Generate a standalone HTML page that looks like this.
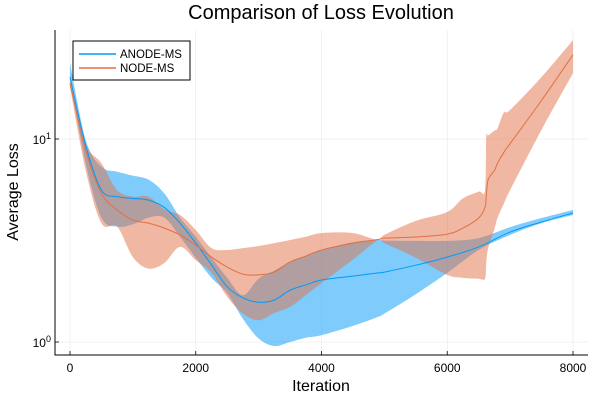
<!DOCTYPE html>
<html><head><meta charset="utf-8"><style>
body{margin:0;background:#fff;}
svg{display:block;font-family:"Liberation Sans","DejaVu Sans",sans-serif;}
</style></head><body>
<svg id="chart" width="600" height="400" viewBox="0 0 600 400">
<text x="321" y="19" text-anchor="middle" font-size="20" fill="#000">Comparison of Loss Evolution</text>
<g id="grid"></g>
<g id="bands"></g>
<g id="lines"></g>
<g id="axes"></g>
<text x="321" y="391" text-anchor="middle" font-size="16">Iteration</text>
<text transform="translate(18,192) rotate(-90)" text-anchor="middle" font-size="16">Average Loss</text>
<g>
<rect x="73" y="41" width="117" height="39" fill="#fff" stroke="#000" stroke-width="1"/>
<line x1="79" y1="54" x2="116" y2="54" stroke="#009af9" stroke-width="1.5"/>
<text x="120" y="58" font-size="11.5">ANODE-MS</text>
<line x1="79" y1="68" x2="116" y2="68" stroke="#e26f46" stroke-width="1.5"/>
<text x="120" y="72" font-size="11.5">NODE-MS</text>
</g>
</svg>
<script>
const xTicks=[0,2000,4000,6000,8000];
const yTicks=[0,1];
const anodeIter=[0,250,500,750,1000,1250,1500,1750,2000,2250,2500,2750,3000,3250,3500,3750,4000,4500,4900,5000,5500,6000,6500,7000,7500,8000];
const anodeMean=[20.2,9.3,5.6,5.2,5.1,5.0,4.6,3.85,3.07,2.4,1.87,1.65,1.57,1.61,1.8,1.91,2.02,2.11,2.19,2.21,2.39,2.62,2.94,3.48,3.9,4.32];
const anodeUpper=[23.6,9.9,7.3,6.9,6.6,6.3,5.4,4.1,3.3,2.6,2.07,1.7,2.05,2.25,2.48,2.66,2.84,3.1,3.18,3.16,3.15,3.15,3.25,3.68,4.08,4.47];
const anodeLower=[19.5,7.6,4.1,3.7,3.8,4.1,4.1,3.3,2.6,2.07,1.74,1.3,1.04,0.955,1.0,1.05,1.08,1.2,1.33,1.38,1.72,2.19,2.84,3.37,3.85,4.22];
const nodeIter=[0,250,500,750,1000,1250,1500,1750,2000,2250,2500,2750,3000,3250,3500,3750,4000,4500,4900,5000,5500,6000,6250,6500,6600,6620,6650,6750,6800,6900,7000,7500,8000];
const nodeMean=[18.8,8.8,5.4,4.47,3.99,3.85,3.64,3.37,3.0,2.62,2.34,2.16,2.14,2.21,2.48,2.65,2.84,3.07,3.2,3.25,3.29,3.4,3.64,4.08,4.6,5.2,6.3,7.0,7.6,8.6,9.5,15.5,26];
const nodeUpper=[19.5,9.5,7.6,5.6,5.2,5.2,4.5,4.22,3.56,2.9,2.84,2.9,2.97,3.07,3.18,3.3,3.44,3.44,3.18,3.37,3.95,4.37,5.1,5.5,5.6,10.2,10.4,11.0,11.3,13.5,13.9,20.2,30.7];
const nodeLower=[18,7.0,3.85,3.7,2.62,2.3,2.45,2.94,2.53,2.19,1.67,1.38,1.28,1.39,1.49,1.7,1.95,2.55,3.18,3.07,2.6,2.14,2.07,2.05,2.05,2.45,2.9,3.6,4.1,4.8,5.6,11.1,21.1];
const NS='http://www.w3.org/2000/svg';
const X0=55,X1=588,Y0=30,Y1=355;
function sx(v){return 70+(v-0)*(573-70)/8000;}
function sy(v){return 342-Math.log10(v)*203;}
function mk(tag,attrs,parent){const e=document.createElementNS(NS,tag);for(const k in attrs)e.setAttribute(k,attrs[k]);parent.appendChild(e);return e;}
const grid=document.getElementById('grid'),axes=document.getElementById('axes'),bands=document.getElementById('bands'),lines=document.getElementById('lines');
xTicks.forEach(t=>{
  const g=mk('line',{x1:sx(t),x2:sx(t),y1:Y0,y2:Y1,stroke:'#000','stroke-opacity':0.1,'stroke-width':0.5},grid);
  
  
  const tl=mk('line',{x1:sx(t),x2:sx(t),y1:Y1,y2:Y1-4,stroke:'#000','stroke-width':0.8},axes);
  
  
  const tx=mk('text',{x:sx(t),y:Y1+17,'text-anchor':'middle','font-size':12},axes);
  tx.textContent=String(t);
  
  
});
yTicks.forEach(p=>{
  const y=sy(Math.pow(10,p));
  const g=mk('line',{x1:X0,x2:X1,y1:y,y2:y,stroke:'#000','stroke-opacity':0.1,'stroke-width':0.5},grid);
  
  
  const tl=mk('line',{x1:X0,x2:X0+4,y1:y,y2:y,stroke:'#000','stroke-width':0.8},axes);
  
  
  const tx=mk('text',{x:X0-4,y:y+5,'text-anchor':'end','font-size':12},axes);
  tx.innerHTML='10<tspan dy="-5" font-size="9">'+p+'</tspan>';
  
  
});
const ax=mk('path',{d:`M${X0},${Y0}V${Y1}H${X1}`,fill:'none',stroke:'#000','stroke-width':1},axes);


function clampX(v,a,b){return Math.min(Math.max(v,Math.min(a,b)),Math.max(a,b));}
function curve(pts,start){
  let d=(start?'M':'L')+pts[0][0]+','+pts[0][1];
  for(let i=0;i<pts.length-1;i++){
    const p0=pts[Math.max(0,i-1)],p1=pts[i],p2=pts[i+1],p3=pts[Math.min(pts.length-1,i+2)];
    const c1=[p1[0]+(p2[0]-p0[0])/6,p1[1]+(p2[1]-p0[1])/6];
    const c2=[p2[0]-(p3[0]-p1[0])/6,p2[1]-(p3[1]-p1[1])/6];
    c1[0]=clampX(c1[0],p1[0],p2[0]);c2[0]=clampX(c2[0],p1[0],p2[0]);
    d+='C'+c1[0]+','+c1[1]+' '+c2[0]+','+c2[1]+' '+p2[0]+','+p2[1];
  }
  return d;
}
function band(it,lo,hi,color,name){
  const top=it.map((t,i)=>[sx(t),sy(hi[i])]);
  const bot=it.map((t,i)=>[sx(t),sy(lo[i])]).reverse();
  const d=curve(top,true)+curve(bot,false)+'Z';
  const p=mk('path',{d:d,fill:color,'fill-opacity':0.5,stroke:'none'},bands);
  
  
}
function line(it,v,color,name){
  const p=mk('path',{d:curve(it.map((t,i)=>[sx(t),sy(v[i])]),true),fill:'none',stroke:color,'stroke-width':1},lines);
  
  
}
band(anodeIter,anodeLower,anodeUpper,'#009af9','anode-band');
band(nodeIter,nodeLower,nodeUpper,'#e26f46','node-band');
line(anodeIter,anodeMean,'#009af9','anode-line');
line(nodeIter,nodeMean,'#e26f46','node-line');
</script>
</body></html>
